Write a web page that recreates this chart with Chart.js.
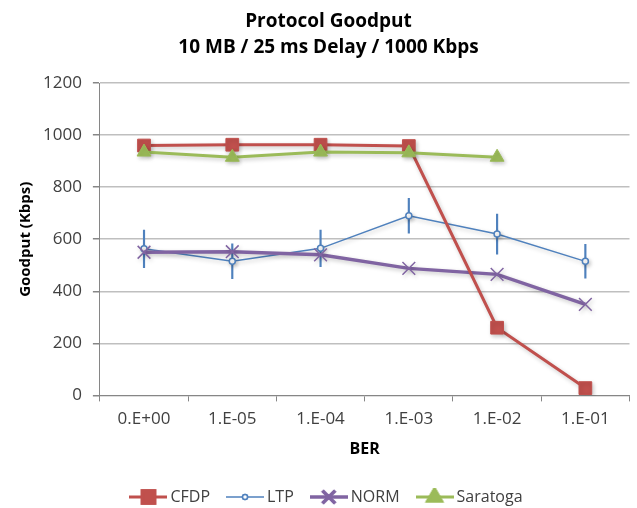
<!DOCTYPE html>
<html>
<head>
<meta charset="utf-8">
<script src="https://cdn.jsdelivr.net/npm/chart.js@4"></script>
<style>
  html, body { margin: 0; padding: 0; background: #fff; overflow: hidden; }
  #wrap { width: 640px; height: 518px; }
</style>
</head>
<body>
<div id="wrap"><canvas id="myChart"></canvas></div>
<script>
// categories (BER) and series values
const berLabels = ["0.E+00", "1.E-05", "1.E-04", "1.E-03", "1.E-02", "1.E-01"];
const cfdp = [960, 963, 963, 958, 260, 28];
const ltp = [563, 515, 565, 690, 620, 515];
const ltpErr = [72, 67, 70, 67, 77, 65];
const norm = [550, 552, 540, 488, 465, 350];
const saratoga = [935, 915, 935, 932, 915, null];
const yTicks = [0, 200, 400, 600, 800, 1000, 1200];

const FONT = "'Open Sans', Lato, sans-serif";

// little line+marker images for the legend
function legendIcon(color, lineWidth, style, radius, fill) {
  const c = document.createElement("canvas");
  c.width = 38; c.height = 18;
  const g = c.getContext("2d");
  g.strokeStyle = color;
  g.lineWidth = lineWidth;
  g.beginPath(); g.moveTo(0, 9); g.lineTo(38, 9); g.stroke();
  Chart.helpers.drawPoint(g, {
    pointStyle: style, radius: radius, borderWidth: 1.5, rotation: 0
  }, 19, 9);
  g.fillStyle = fill;
  g.fill();
  g.stroke();
  return c;
}

// soft drop shadow under the series lines, like the spreadsheet original
const lineShadow = {
  id: "lineShadow",
  beforeDatasetDraw(chart, args) {
    const c = chart.ctx;
    c.save();
    if (args.meta.type === "line") {
      c.shadowColor = "rgba(0,0,0,0.22)";
      c.shadowBlur = 4;
      c.shadowOffsetX = 1.5;
      c.shadowOffsetY = 2;
    }
  },
  afterDatasetDraw(chart) {
    chart.ctx.restore();
  }
};

const ctx = document.getElementById("myChart").getContext("2d");

const errBars = ltp.map((v, i) => [v - ltpErr[i], v + ltpErr[i]]);

new Chart(ctx, {
  type: "line",
  data: {
    labels: berLabels,
    datasets: [
      {
        label: "CFDP",
        data: cfdp,
        borderColor: "#C0504D",
        backgroundColor: "#C0504D",
        borderWidth: 3,
        pointStyle: "rect",
        pointRadius: 9,
        pointBorderWidth: 1,
        order: 1
      },
      {
        label: "LTP",
        data: ltp,
        borderColor: "#4F81BD",
        backgroundColor: "#ffffff",
        borderWidth: 1.5,
        pointStyle: "circle",
        pointRadius: 3,
        pointBorderWidth: 1.5,
        order: 3
      },
      {
        label: "NORM",
        data: norm,
        borderColor: "#8064A2",
        backgroundColor: "#8064A2",
        borderWidth: 3.5,
        pointStyle: "crossRot",
        pointRadius: 9,
        pointBorderWidth: 1.5,
        order: 2
      },
      {
        label: "Saratoga",
        data: saratoga,
        borderColor: "#9BBB59",
        backgroundColor: "#9BBB59",
        borderWidth: 3,
        pointStyle: "triangle",
        pointRadius: 8,
        pointBorderWidth: 1,
        order: 0
      },
      {
        type: "bar",
        label: "LTP error",
        data: errBars,
        backgroundColor: "#4F81BD",
        borderWidth: 0,
        barThickness: 1.5,
        order: 4
      }
    ]
  },
  plugins: [lineShadow],
  options: {
    responsive: true,
    maintainAspectRatio: false,
    animation: false,
    layout: { padding: { left: 17, right: 0, top: 4, bottom: 3 } },
    plugins: {
      title: {
        display: true,
        text: ["Protocol Goodput", "10 MB / 25 ms Delay / 1000 Kbps"],
        color: "#000",
        font: { family: FONT, size: 19, weight: "bold", lineHeight: 1.37 },
        padding: { top: 5, bottom: 22 }
      },
      legend: {
        position: "bottom",
        labels: {
          color: "#404040",
          font: { family: FONT, size: 16 },
          usePointStyle: true,
          pointStyleWidth: 28,
          padding: 21,
          filter: (item) => item.text !== "LTP error",
          generateLabels: (chart) => {
            const ds = chart.data.datasets;
            const icons = [
              legendIcon("#C0504D", 3, "rect", 9, "#C0504D"),
              legendIcon("#4F81BD", 1.5, "circle", 2.5, "#ffffff"),
              legendIcon("#8064A2", 3.5, "crossRot", 9, "#8064A2"),
              legendIcon("#9BBB59", 3, "triangle", 8, "#9BBB59")
            ];
            return ds.map((d, i) => ({
              text: d.label,
              pointStyle: icons[i],
              fillStyle: d.borderColor,
              strokeStyle: d.borderColor,
              lineWidth: 0,
              fontColor: "#404040",
              hidden: false,
              datasetIndex: i
            }));
          }
        }
      },
      tooltip: { enabled: false }
    },
    scales: {
      x: {
        offset: true,
        title: {
          display: true,
          text: "BER",
          color: "#000",
          font: { family: FONT, size: 16, weight: "bold" },
          padding: { top: 2, bottom: 9 }
        },
        grid: {
          drawOnChartArea: false,
          drawTicks: true,
          tickLength: 6,
          color: "#868686",
          offset: true
        },
        border: { color: "#868686" },
        ticks: {
          color: "#404040",
          font: { family: FONT, size: 17 },
          padding: 8,
          maxRotation: 0
        }
      },
      y: {
        min: 0,
        max: 1200,
        afterBuildTicks: (axis) => {
          axis.ticks = yTicks.map((v) => ({ value: v }));
        },
        title: {
          display: true,
          text: "Goodput (Kbps)",
          color: "#000",
          font: { family: FONT, size: 15, weight: "bold" },
          padding: { top: 0, bottom: -3 }
        },
        grid: {
          color: "#BFBFBF",
          lineWidth: 1.5,
          tickLength: 7,
          tickColor: "#868686"
        },
        border: { color: "#868686" },
        ticks: {
          color: "#404040",
          font: { family: FONT, size: 17 },
          padding: 11,
          callback: (v) => String(v)
        }
      }
    }
  }
});
</script>
</body>
</html>
